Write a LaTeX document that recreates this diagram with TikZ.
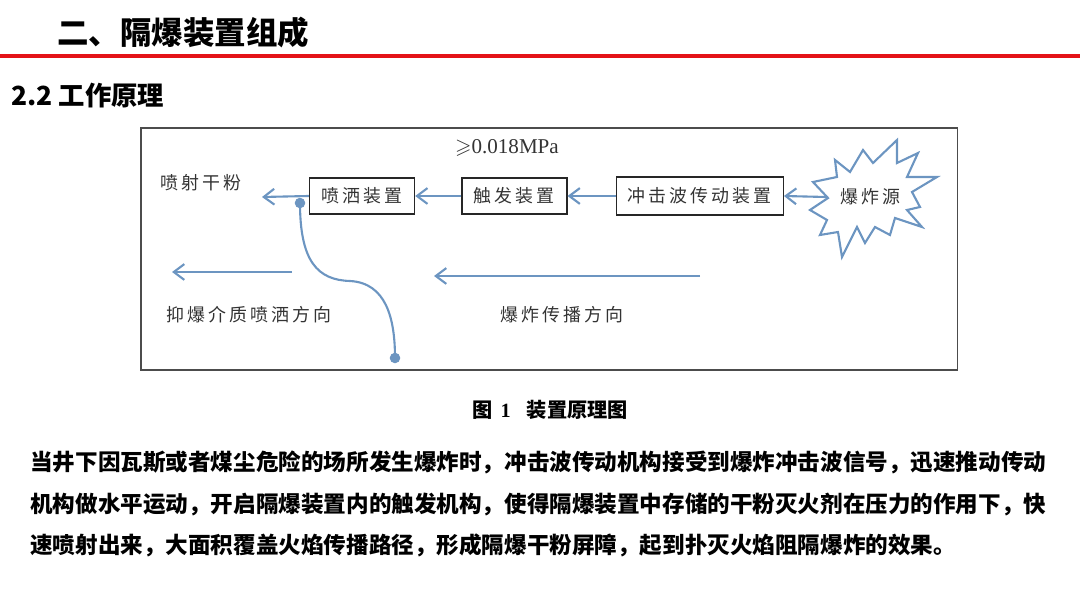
\documentclass[tikz,border=0pt]{standalone}
\usepackage{amsmath,amssymb}
\usepackage{fontspec}
\usepackage{xcolor}
\usetikzlibrary{arrows.meta,positioning}
\setmainfont{Liberation Serif}
\newfontfamily\cjk{Noto Sans CJK SC}
\newfontfamily\cjkls[LetterSpace=17]{Noto Sans CJK SC}
\definecolor{flowblue}{RGB}{108,149,193}
\definecolor{titlered}{RGB}{228,18,24}

\begin{document}
\begin{tikzpicture}[x=0.02cm, y=-0.02cm,
  box/.style={rectangle, draw=black!85, line width=0.8pt, minimum width=#1,
    minimum height=0.72cm, inner sep=2pt, font=\cjkls\fontsize{10.2}{12}\selectfont, text=black!80},
  lbl/.style={font=\cjkls\fontsize{10.2}{12}\selectfont, text=black!80, inner sep=0pt},
  para/.style={anchor=west, inner sep=0pt, font=\cjk\bfseries\fontsize{12.85}{15}\selectfont},
  arr/.style={-{Straight Barb[length=6pt,width=9pt]}, flowblue, line width=1.2pt},
  pin/.style={circle, fill=flowblue, inner sep=0pt, minimum size=6pt}
]
\useasboundingbox (0,0) rectangle (1080,608);
\node[anchor=west, inner sep=0pt, font=\cjk\bfseries\fontsize{17.9}{20}\selectfont] (title) at (57,33) {二、隔爆装置组成};
\draw[titlered, line width=1.8pt] (0,56) -- (1080,56);
\node[anchor=west, inner sep=0pt, font=\cjk\bfseries\fontsize{15}{18}\selectfont] (sub) at (11,96) {2.2 工作原理};

\node[draw=black!70, line width=0.9pt, minimum width=16.34cm, minimum height=4.84cm, anchor=north west] (frame) at (140,127) {};
\node[lbl, font=\fontsize{12}{14}\selectfont] (press) at (507,148) {$\geqslant$0.018MPa};

\node[box=2.1cm] (spray) at (362,196) {喷洒装置};
\node[box=2.1cm, right=0.92cm of spray] (trig) {触发装置};
\node[box=3.34cm, minimum height=0.76cm, right=0.96cm of trig] (wave) {冲击波传动装置};

\draw[flowblue, line width=1.2pt, line join=miter]
  (835,160) -- (850,172) -- (863,150) -- (873,163) -- (897,140) -- (897,163)
  -- (918,153) -- (907,177) -- (937,177) -- (912,192) -- (920,207) -- (907,210)
  -- (922,227) -- (895,218) -- (890,235) -- (875,227) -- (865,243) -- (857,227)
  -- (842,257) -- (838,232) -- (820,235) -- (827,220) -- (810,210) -- (828,198)
  -- (813,182) -- (837,177) -- cycle;
\node[lbl] (src) at (870,197) {爆炸源};
\coordinate (srcin) at (826,197);

\draw[arr] (srcin) -- (wave.east);
\draw[arr] (wave.west) -- (trig.east);
\draw[arr] (trig.west) -- (spray.east);
\coordinate (out) at (262,197);
\draw[arr] (spray.west) -- (out);
\node[lbl, anchor=west] (powder) at (160,183) {喷射干粉};

\node[pin] (d1) at (300,203) {};
\node[pin] (d2) at (395,358) {};
\draw[flowblue, line width=1.2pt] (d1.center) .. controls (300,262) and (318,280) .. (350,281)
  .. controls (386,283) and (395,318) .. (d2.center);

\coordinate (sa) at (292,272);
\coordinate (sb) at (172,272);
\draw[arr] (sa) -- (sb);
\node[lbl, anchor=west] (sdir) at (166,315) {抑爆介质喷洒方向};
\coordinate (ea) at (700,276);
\coordinate (eb) at (434,276);
\draw[arr] (ea) -- (eb);
\node[lbl, anchor=west] (edir) at (500,315) {爆炸传播方向};

\node[anchor=west, inner sep=0pt, font=\cjk\bfseries\fontsize{11.5}{13}\selectfont] (cap) at (472,410) {图\hspace{0.4em}{\rmfamily\bfseries 1}\hspace{0.8em}装置原理图};

\node[para] (l1) at (30,462) {当井下因瓦斯或者煤尘危险的场所发生爆炸时，冲击波传动机构接受到爆炸冲击波信号，迅速推动传动};
\node[para] (l2) at (30,504) {机构做水平运动，开启隔爆装置内的触发机构，使得隔爆装置中存储的干粉灭火剂在压力的作用下，快};
\node[para] (l3) at (30,545) {速喷射出来，大面积覆盖火焰传播路径，形成隔爆干粉屏障，起到扑灭火焰阻隔爆炸的效果。};
\end{tikzpicture}
\end{document}
